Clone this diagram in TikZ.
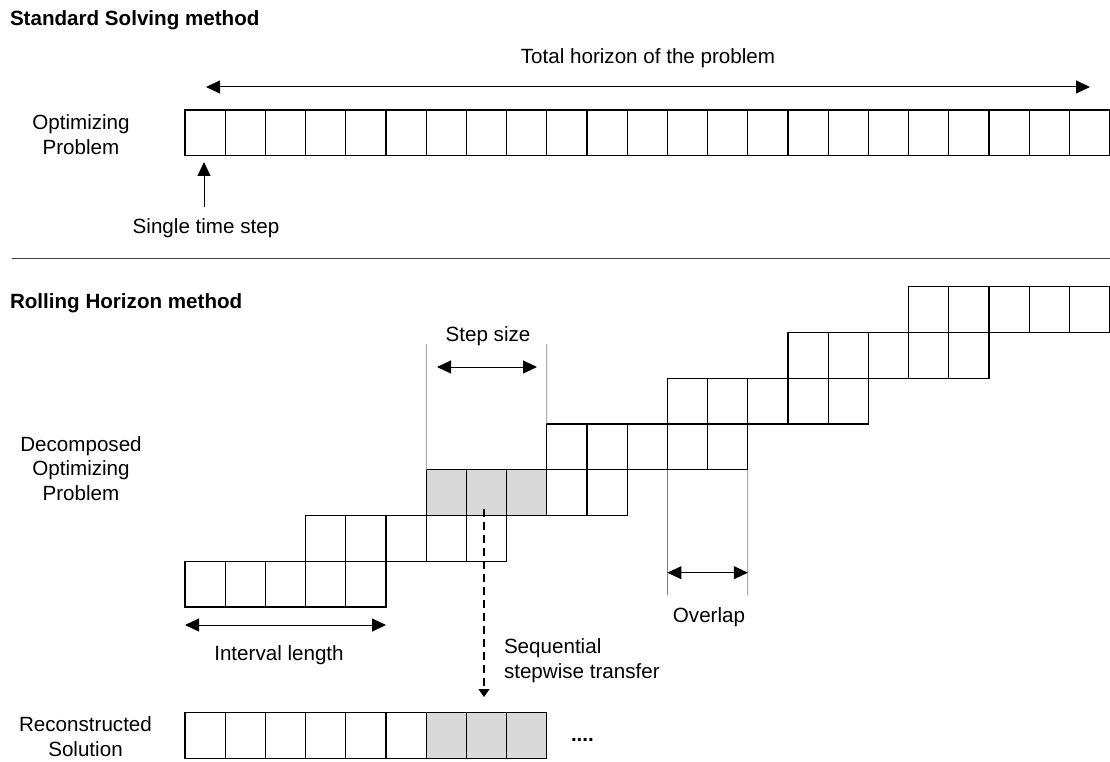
\documentclass[tikz,border=0pt]{standalone}
\usepackage{fontspec}
\setmainfont{Liberation Sans}
\usetikzlibrary{arrows.meta}
\definecolor{cellgray}{HTML}{D9D9D9}
\definecolor{guidegray}{HTML}{7F7F7F}
\begin{document}
\begin{tikzpicture}[x=1pt,y=-1pt,
  every node/.style={font=\fontsize{20.6}{24.5}\selectfont, inner sep=0pt, outer sep=0pt},
  cell/.style={draw=black, line width=1.2pt, minimum width=40.2pt, minimum height=45.75pt, anchor=north west, inner sep=0pt},
  shaded/.style={cell, fill=cellgray},
  dimarrow/.style={line width=1pt, {Triangle[length=14pt,width=13pt]}-{Triangle[length=14pt,width=13pt]}},
  ptr/.style={line width=1pt, -{Triangle[length=14pt,width=13pt]}},
  guide/.style={line width=0.7pt, draw=guidegray},
  transfer/.style={line width=1.3pt, dash pattern=on 8pt off 5pt, -{Triangle[length=8pt,width=11pt]}},
  title/.style={font=\fontsize{20.6}{24.5}\selectfont\bfseries, anchor=base west},
  lbl/.style={anchor=base},
  multi/.style={align=center, anchor=north}
]
\useasboundingbox[fill=white] (0,0) rectangle (1110,762);

% ---------- Standard solving method ----------
\node[title] (std) at (10,26) {Standard Solving method};
\node[lbl] (total) at (648,64) {Total horizon of the problem};
\coordinate (tl) at (206,87);
\coordinate (tr) at (1090,87);
\draw[dimarrow] (tl) -- (tr);

\foreach \i in {0,...,22}{
  \node[cell] (top-\i) at ({185+40.2*\i},110) {};
}
\node[multi] (opt) at (81,115) {Optimizing\\Problem};

\node[lbl] (single) at (206,233) {Single time step};
\coordinate (sa) at (204,207);
\coordinate (sb) at (204,162);
\draw[ptr] (sa) -- (sb);

\coordinate (sepl) at (12,258);
\coordinate (sepr) at (1110,258);
\draw[line width=1pt, draw=black!75] (sepl) -- (sepr);

% ---------- Rolling horizon method ----------
\node[title] (roll) at (10,308) {Rolling Horizon method};
\node[multi] (dec) at (81,436.5) {Decomposed\\Optimizing\\Problem};

\foreach \k in {0,...,6}{
  \foreach \i in {0,...,4}{
    \ifnum\k=2 \ifnum\i<3 \def\st{shaded}\else\def\st{cell}\fi\else\def\st{cell}\fi
    \node[\st] (r\k-\i) at ({185+40.2*(3*\k+\i)},{561.25-45.75*\k}) {};
  }
}

% step size
\node[lbl] (stepsize) at (488,341) {Step size};
\coordinate (g1) at (426.2,344);
\coordinate (g2) at (546.8,344);
\draw[guide] (g1) -- (r2-0.north west);
\draw[guide] (g2) -- (r3-0.north west);
\coordinate (s1) at (437,367);
\coordinate (s2) at (537,367);
\draw[dimarrow] (s1) -- (s2);

% overlap
\coordinate (o1) at (667.4,595);
\coordinate (o2) at (747.8,595);
\draw[guide] (r3-3.south west) -- (o1);
\draw[guide] (r3-4.south east) -- (o2);
\coordinate (oa) at (667.4,572.7);
\coordinate (ob) at (747.8,572.7);
\draw[dimarrow] (oa) -- (ob);
\node[lbl] (overlap) at (709,622) {Overlap};

% interval length
\coordinate (ia) at (185,625);
\coordinate (ib) at (386,625);
\draw[dimarrow] (ia) -- (ib);
\node[lbl] (interval) at (279,660) {Interval length};

% transfer
\coordinate (d1) at (484,509);
\coordinate (d2) at (484,697);
\draw[transfer] (d1) -- (d2);
\node[align=left, anchor=north west] (seq) at (504,639) {Sequential\\stepwise transfer};

% reconstructed solution
\foreach \i in {0,...,8}{
  \ifnum\i>5 \def\st{shaded}\else\def\st{cell}\fi
  \node[\st] (rec-\i) at ({185+40.2*\i},712.75) {};
}
\node[multi] (recl) at (85.5,717) {Reconstructed\\Solution};
\node[anchor=base west, font=\fontsize{20.6}{24.5}\selectfont\bfseries] (dots) at (571,741) {....};
\end{tikzpicture}
\end{document}
